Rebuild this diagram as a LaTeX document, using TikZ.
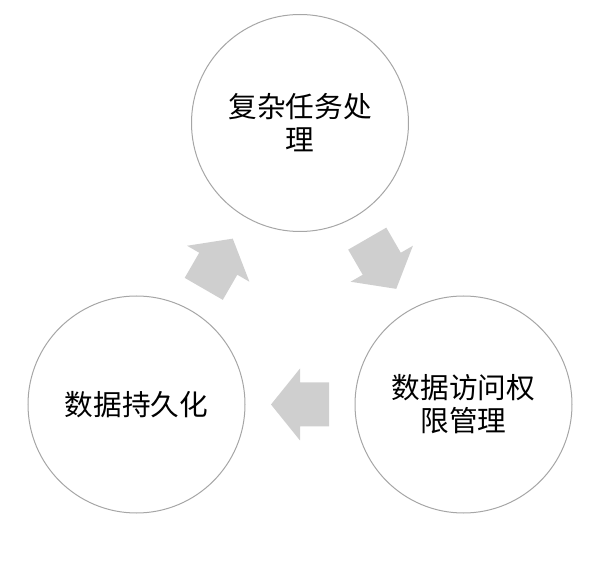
\documentclass[tikz,border=0pt]{standalone}
\usepackage{fontspec}
\newfontfamily\cjk{Noto Sans CJK SC}
\usetikzlibrary{calc}
\definecolor{arrowgray}{HTML}{CFCFCF}
\definecolor{ringgray}{HTML}{A6A6A6}
\tikzset{
  stage/.style={circle, draw=ringgray, line width=0.75pt, fill=white,
    minimum size=162.75pt, inner sep=0pt, align=center,
    font=\cjk\fontsize{21.5pt}{24.75pt}\selectfont},
  flowarrow/.style={fill=arrowgray, draw=none}
}
\newcommand{\blockarrow}[2]{%
  \fill[flowarrow, shift={(#1)}, rotate=#2]
    (29,0) -- (0,36) -- (0,22) -- (-29,22) -- (-29,-22) -- (0,-22) -- (0,-36) -- cycle;}
\begin{document}
\begin{tikzpicture}[x=0.75pt,y=-0.75pt]
\useasboundingbox (0,0) rectangle (615,581);
\node[stage] (task) at (300,123) {复杂任务处\\理};
\node[stage] (persist) at (136.5,404.5) {数据持久化};
\node[stage] (access) at (463.5,404.5) {数据访问权\\限管理};
\coordinate (m1) at ($(persist)!0.5!(task)$);
\coordinate (m2) at ($(task)!0.5!(access)$);
\coordinate (m3) at ($(access)!0.5!(persist)$);
\blockarrow{m1}{60}
\blockarrow{m2}{-60}
\blockarrow{m3}{180}
\end{tikzpicture}
\end{document}
